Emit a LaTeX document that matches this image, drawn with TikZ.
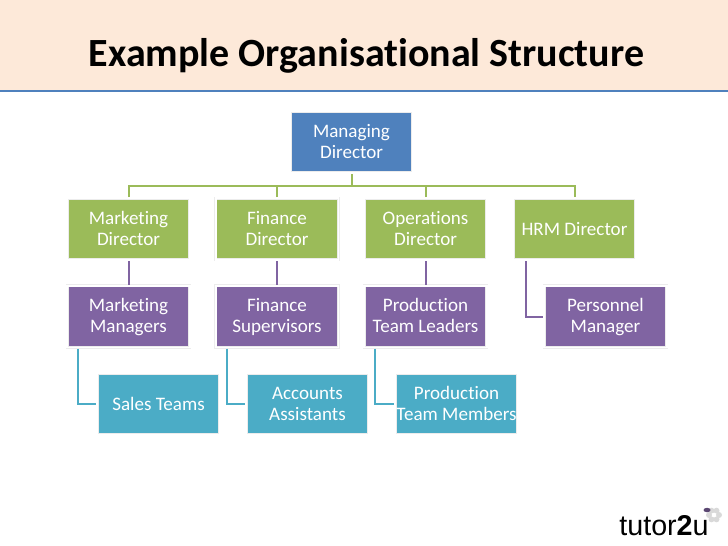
\documentclass[tikz,border=0pt]{standalone}
\usepackage{fontspec}
\setmainfont{Carlito}[Ligatures=NoCommon]
\newfontfamily\logofont{Liberation Sans}
\usepackage{tikz}
\usetikzlibrary{positioning, backgrounds}

\begin{document}
\begin{tikzpicture}[
    x=.75pt, y=-.75pt,
    % Styles
    box/.style={% For all the boxes
        rectangle,
        text=white,
        align=center,
        inner sep=0pt,
        outer sep=.9pt,
        minimum width=91.95pt,
        minimum height=46.2pt,
        draw=gray!15,
        line width=.4pt,
        double=white,
        double distance=1.2pt,
        font=\fontsize{14.3}{15.75}\selectfont,
        text height=25.5pt,
        text depth=1.5pt,
        },
    single/.style={text height=13.4pt, text depth=4pt},
    topbox/.style={box, fill=topblue},
    dirbox/.style={box, fill=dirgreen},
    mgrbox/.style={box, fill=mgrpurple},
    teambox/.style={box, fill=teamteal},
    LineG/.style={draw=dirgreen, line width=1.5pt},
    LineP/.style={draw=mgrpurple, line width=1.5pt},
    LineT/.style={draw=teamteal, line width=1.5pt},
    ]

\definecolor{topblue}{HTML}{4F81BD}
\definecolor{dirgreen}{HTML}{9BBB59}
\definecolor{mgrpurple}{HTML}{8064A2}
\definecolor{teamteal}{HTML}{4BACC6}
\definecolor{peach}{HTML}{FDE9D9}

    % Page and title band
    \useasboundingbox (0,0) rectangle (728,546);
    \fill [peach] (0,0) rectangle (728,90);
    \fill [topblue] (0,89.5) rectangle (728,92);
    \node [font=\fontsize{30}{36}\selectfont\bfseries] (title) at (366.5,56) {Example Organisational Structure};

    % Draw the boxes, one row at a time
    \node [topbox] (md) at (351.5,142) {Managing\\Director};

    \node [dirbox] (dir1) at (128.5,229) {Marketing\\Director};
    \node [dirbox] (dir2) at (277,229) {Finance\\Director};
    \node [dirbox] (dir3) at (425.5,229) {Operations\\Director};
    \node [dirbox, single] (dir4) at (574.5,229) {HRM Director};

    \node [mgrbox] (mgr1) at (128.5,316.5) {Marketing\\Managers};
    \node [mgrbox] (mgr2) at (277,316.5) {Finance\\Supervisors};
    \node [mgrbox] (mgr3) at (425.5,316.5) {Production\\Team Leaders};
    \node [mgrbox] (mgr4) at (605.5,316.5) {Personnel\\Manager};

    \node [teambox, single] (team1) at (158.5,404) {Sales Teams};
    \node [teambox] (team2) at (307.5,404) {Accounts\\Assistants};
    \node [teambox] (team3) at (456.5,404) {Production\\Team Members};

    % Start connecting all.
    \coordinate (bus) at (351.5,186);
    \draw [LineG] (md) -- (bus);
    \draw [LineG] (dir1) |- (bus);
    \draw [LineG] (dir2) |- (bus);
    \draw [LineG] (dir3) |- (bus);
    \draw [LineG] (dir4) |- (bus);

    \draw [LineP] (dir1) -- (mgr1);
    \draw [LineP] (dir2) -- (mgr2);
    \draw [LineP] (dir3) -- (mgr3);
    \draw [LineP] (dir4.south west)++(13.5,0) |- (mgr4);

    \draw [LineT] (mgr1.south west)++(12,0) |- (team1);
    \draw [LineT] (mgr2.south west)++(12,0) |- (team2);
    \draw [LineT] (mgr3.south west)++(12,0) |- (team3);

    % Logo
    \node [font=\fontsize{21.5}{26}\logofont] (logo) at (664,526) {tutor\textbf{2}u};
    \foreach \a in {0,60,...,300}
        \fill [gray!30] (714,515) ++(\a:5) circle (3);
    \fill [white] (714,515) circle (2.2);
    \fill [mgrpurple!70!black] (707,510) ellipse (3.5 and 2.2);

\end{tikzpicture}
\end{document}
